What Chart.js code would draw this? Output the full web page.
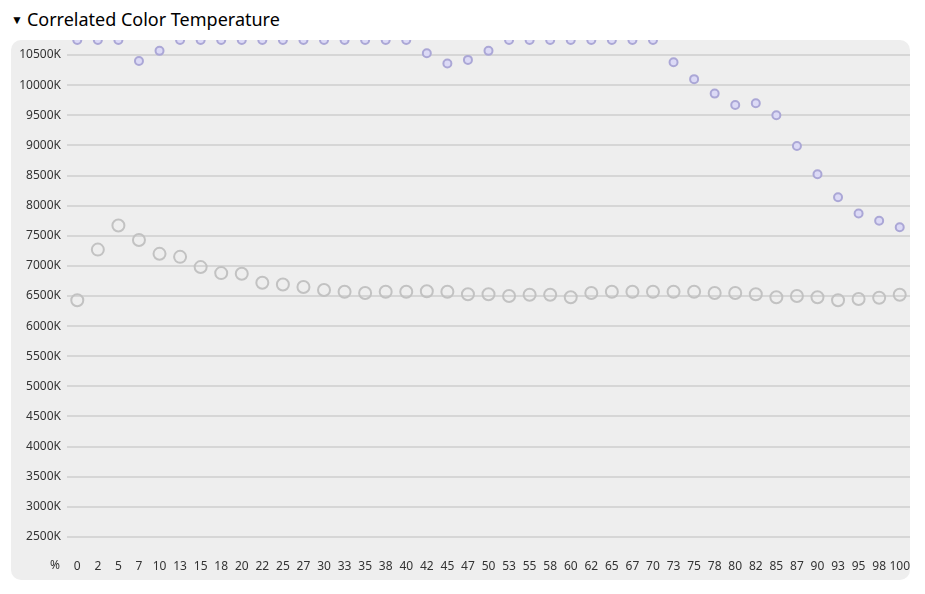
<!DOCTYPE html>
<html>
<head>
<meta charset="utf-8">
<script src="https://cdn.jsdelivr.net/npm/chart.js@4"></script>
<style>
  body { margin: 0; background: #fff; font-family: "Noto Sans", "Open Sans", sans-serif; }
  #title { position: absolute; left: 11px; top: 7px; font-size: 18px; color: #000; white-space: nowrap; }
  #title .tri { font-size: 12px; vertical-align: 2px; margin-right: 4px; }
  #panel { position: absolute; left: 11px; top: 40px; width: 899px; height: 540px;
           background: #eeeeee; border-radius: 10px; overflow: hidden; }
  canvas { display: block; }
</style>
</head>
<body>
<div id="title"><span class="tri">▼</span>Correlated Color Temperature</div>
<div id="panel"><canvas id="grafico" width="899" height="540"></canvas></div>
<script>
const percentLabels = ['0','2','5','7','10','13','15','18','20','22','25','27','30','33','35','38','40','42','45','47',
  '50','53','55','58','60','62','65','67','70','73','75','78','80','82','85','87','90','93','95','98','100']

// purple series (values at the top are clipped by the chart)
const cctA = [10750, 10750, 10750, 10400, 10570, 10750, 10750, 10750, 10750, 10750, 10750, 10750, 10750, 10750,
  10750, 10750, 10750, 10530, 10360, 10420, 10570, 10750, 10750, 10750, 10750, 10750, 10750, 10750, 10750,
  10380, 10100, 9860, 9670, 9700, 9500, 8990, 8520, 8140, 7870, 7750, 7640]

// grey series
const cctB = [6430, 7270, 7670, 7430, 7200, 7150, 6980, 6880, 6870, 6720, 6690, 6650, 6600, 6570, 6550, 6570,
  6570, 6580, 6570, 6530, 6530, 6500, 6520, 6520, 6480, 6550, 6570, 6570, 6570, 6570, 6570, 6550, 6550, 6530,
  6480, 6500, 6480, 6430, 6450, 6470, 6520]

const yTicks = [2500, 3000, 3500, 4000, 4500, 5000, 5500, 6000, 6500, 7000, 7500, 8000, 8500, 9000, 9500, 10000, 10500]

const tickFont = { family: '"Noto Sans", "Open Sans", sans-serif', size: 12 }

const percentSign = {
  id: 'percentSign',
  afterDraw(chart) {
    const ctx = chart.ctx
    ctx.save()
    ctx.font = '12px "Noto Sans", "Open Sans", sans-serif'
    ctx.fillStyle = '#333'
    ctx.textAlign = 'center'
    ctx.textBaseline = 'middle'
    ctx.fillText('%', 44, chart.chartArea.bottom + 14)
    ctx.restore()
  }
}

const grafico = document.getElementById('grafico').getContext('2d')
new Chart(grafico, {
  type: 'line',
  data: {
    labels: percentLabels,
    datasets: [{
      data: cctA,
      showLine: false,
      pointRadius: 4,
      pointBorderWidth: 2,
      pointBackgroundColor: '#dcdaf6',
      pointBorderColor: '#aba7d6',
      clip: 0
    }, {
      data: cctB,
      showLine: false,
      pointRadius: 6,
      pointBorderWidth: 2,
      pointBackgroundColor: 'rgba(0,0,0,0)',
      pointBorderColor: '#c2c2c2',
      clip: 0
    }]
  },
  options: {
    responsive: false,
    animation: false,
    events: [],
    layout: { padding: 0, autoPadding: false },
    plugins: { legend: { display: false }, tooltip: { enabled: false } },
    scales: {
      x: {
        offset: true,
        grid: { display: false, drawTicks: false },
        border: { display: false },
        ticks: { color: '#333', font: tickFont, padding: 7, maxRotation: 0, autoSkip: false },
        afterFit: (s) => { s.height = 28; s.paddingLeft = 0; s.paddingRight = 0 }
      },
      y: {
        min: 2250,
        max: 10750,
        grid: { color: '#d6d6d6', lineWidth: 2, drawTicks: false },
        border: { display: false },
        ticks: { color: '#333', font: tickFont, padding: 6, callback: v => v + 'K' },
        afterBuildTicks: (s) => { s.ticks = yTicks.map(v => ({ value: v })) },
        afterFit: (s) => { s.width = 56; s.paddingTop = 0; s.paddingBottom = 0 }
      }
    }
  },
  plugins: [percentSign]
})
</script>
</body>
</html>
